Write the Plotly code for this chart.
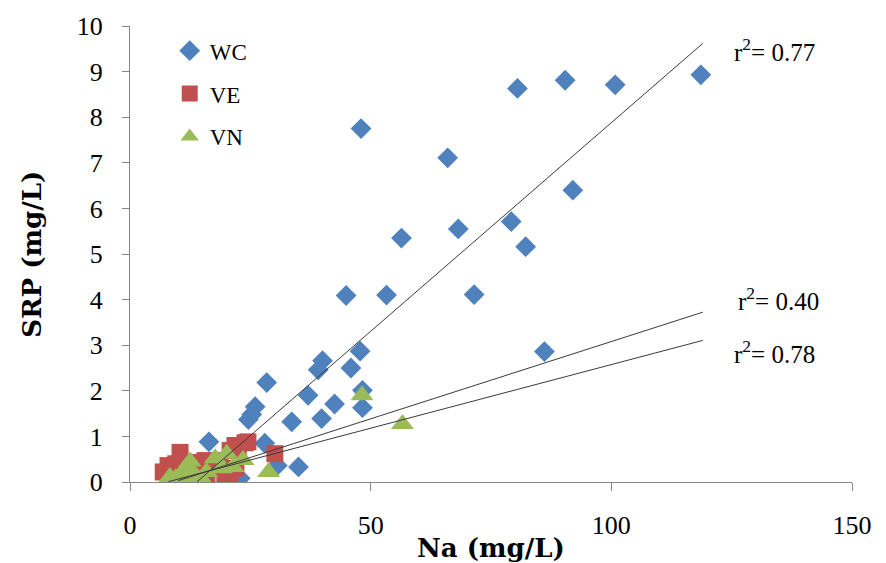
import plotly.graph_objects as go

# ---- data ----
wc_x = [118.6, 100.8, 90.4, 80.5, 48.0, 66.0, 92.0, 79.2, 68.2, 56.4, 82.2, 44.9, 53.3, 71.5,
        86.1, 47.8, 40.0, 39.1, 45.9, 28.4, 48.3, 37.0, 42.5, 26.0, 25.3, 24.6, 33.6, 39.8,
        48.3, 16.4, 28.0, 30.6, 35.0, 22.9]
wc_y = [8.93, 8.71, 8.81, 8.63, 7.75, 7.11, 6.40, 5.71, 5.55, 5.35, 5.16, 4.09, 4.10, 4.11,
        2.86, 2.87, 2.66, 2.46, 2.50, 2.18, 2.01, 1.90, 1.71, 1.65, 1.48, 1.37, 1.32, 1.39,
        1.63, 0.88, 0.85, 0.36, 0.33, 0.08]

ve_x = [6.9, 7.9, 8.5, 10.4, 9.5, 11.5, 13.9, 15.6, 17.0, 18.7, 19.7, 20.8, 20.8, 21.8,
        22.5, 23.9, 24.5, 30.1, 12.5, 16.0, 22.0]
ve_y = [0.22, 0.36, 0.15, 0.65, 0.40, 0.30, 0.43, 0.47, 0.35, 0.47, 0.08, 0.12, 0.69, 0.80,
        0.75, 0.86, 0.88, 0.62, 0.20, 0.15, 0.30]

vn_x = [8.3, 9.5, 10.4, 11.5, 12.5, 13.9, 15.0, 15.9, 17.7, 19.0, 20.1, 21.4, 23.5, 28.8,
        48.2, 56.6, 11.0, 13.0]
vn_y = [0.11, 0.08, 0.15, 0.30, 0.45, 0.11, 0.05, 0.22, 0.52, 0.30, 0.62, 0.33, 0.48, 0.22,
        1.90, 1.27, 0.05, 0.20]

# trend lines: slope, intercept, x-start, x-end, r2 label
trend_names = ["WC", "VE", "VN"]
trend_slope = [0.0915, 0.0339, 0.0279]
trend_icept = [-1.27, -0.31, -0.215]
trend_x0 = [13.9, 10.0, 8.0]
trend_x1 = [119.0, 119.0, 119.0]
trend_r2 = ["0.77", "0.40", "0.78"]
label_x = [133.8, 134.8, 133.8]
label_y = [9.47, 4.02, 2.86]

x_ticks = [0, 50, 100, 150]
y_ticks = list(range(0, 11))

FONT = "Liberation Serif"
TFONT = "DejaVu Serif"
C_WC, C_VE, C_VN = "#4F81BD", "#C0504D", "#9BBB59"

fig = go.Figure()

fig.add_trace(go.Scatter(x=wc_x, y=wc_y, mode="markers", name="WC", legendgroup="a",
                         marker=dict(symbol="diamond", size=16, color=C_WC)))
fig.add_trace(go.Scatter(x=ve_x, y=ve_y, mode="markers", name="VE", legendgroup="b",
                         marker=dict(symbol="square", size=17, color=C_VE)))
fig.add_trace(go.Scatter(x=vn_x, y=vn_y, mode="markers", name="VN", legendgroup="c",
                         marker=dict(symbol="triangle-up", size=20, color=C_VN)))

for i in range(3):
    xs = [trend_x0[i], trend_x1[i]]
    ys = [trend_slope[i] * x + trend_icept[i] for x in xs]
    fig.add_trace(go.Scatter(x=xs, y=ys, mode="lines", showlegend=False,
                             line=dict(color="#3a3a3a", width=1), hoverinfo="skip"))

annotations = []
for i in range(3):
    annotations.append(dict(x=label_x[i], y=label_y[i], xref="x", yref="y",
                            text="r<sup>2</sup>= " + trend_r2[i], showarrow=False,
                            font=dict(family=FONT, size=25, color="black"),
                            xanchor="center", yanchor="middle"))
annotations.append(dict(x=0.5, y=-0.144, xref="paper", yref="paper", text="<b>Na (mg/L)</b>",
                        showarrow=False, font=dict(family=TFONT, size=26, color="black"),
                        xanchor="center", yanchor="middle"))
annotations.append(dict(x=-0.136, y=0.5, xref="paper", yref="paper", text="<b>SRP (mg/L)</b>",
                        showarrow=False, textangle=-90,
                        font=dict(family=TFONT, size=26, color="black"),
                        xanchor="center", yanchor="middle"))

fig.update_layout(
    width=886, height=563,
    margin=dict(l=130, r=34, t=21, b=81),
    plot_bgcolor="white", paper_bgcolor="white",
    font=dict(family=FONT, color="black"),
    annotations=annotations,
    legend=dict(x=0.055, y=0.993, xanchor="left", yanchor="top",
                font=dict(family=FONT, size=23, color="black"),
                bgcolor="rgba(0,0,0,0)", tracegroupgap=10),
    xaxis=dict(range=[0, 150], tickvals=x_ticks, showgrid=False, zeroline=False,
               showline=True, linecolor="#868686", linewidth=1,
               ticks="outside", ticklen=8, tickcolor="#868686",
               tickfont=dict(family=FONT, size=26, color="black"),
               ticklabelstandoff=12),
    yaxis=dict(range=[0, 10], tickvals=y_ticks, showgrid=False, zeroline=False,
               showline=True, linecolor="#868686", linewidth=1,
               ticks="outside", ticklen=7, tickcolor="#868686",
               tickfont=dict(family=FONT, size=26, color="black"),
               ticklabelstandoff=14),
)

fig.write_html("out.html")
